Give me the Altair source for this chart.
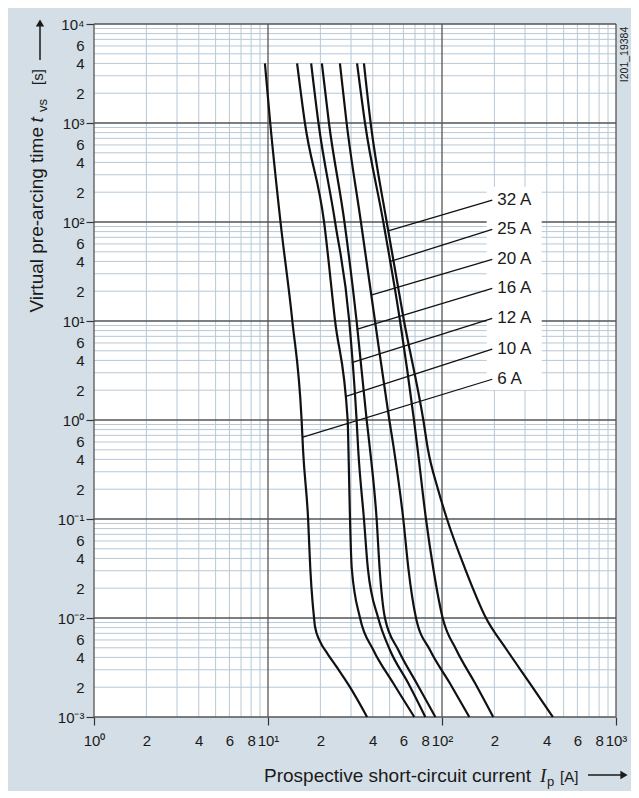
import altair as alt
import pandas as pd

# ---------------- data ----------------
ratings = ["6 A", "10 A", "12 A", "16 A", "20 A", "25 A", "32 A"]

t_std = [4000, 1000, 100, 10, 1, 0.5, 0.1, 0.0316, 0.01, 0.00475, 0.00219, 0.001]

I_6A = [9.6, 10.3, 11.8, 13.8, 15.6, 15.9, 17.0, 17.5, 18.05, 18.4, 18.6, 19.9, 21.9, 24.8, 29.6, 37.1]
t_6A = [4000, 1000, 100, 10, 1, 0.5, 0.1, 0.0316, 0.0142, 0.01, 0.0083, 0.0058, 0.0044, 0.0032, 0.002, 0.001]

I_10A = [14.7, 16.3, 21.0, 24.3, 28.7, 29.0, 29.6, 30.3, 33.8, 40.3, 52.5, 69.3]
t_10A = t_std

I_12A = [17.7, 19.5, 24.3, 29.3, 32.3, 33.0, 35.6, 37.5, 43.0, 50.2, 64.0, 80.2]
t_12A = t_std

I_16A = [20.4, 22.4, 27.5, 32.3, 36.9, 38.6, 42.1, 43.8, 47.0, 56.1, 71.5, 91.6]
t_16A = t_std

I_20A = [25.9, 28.3, 34.2, 41.2, 49.8, 53.0, 59.9, 64.1, 70.9, 85.3, 111, 143.6]
t_20A = t_std

I_25A = [32.5, 36.1, 46.0, 57.4, 69.0, 72.5, 80.9, 89.1, 100.9, 121, 155, 197]
t_25A = t_std

I_32A = [35.6, 38.9, 48.1, 60.5, 78.1, 83.1, 94.8, 106.8, 135.6, 179, 236, 320, 434]
t_32A = [4000, 1000, 100, 10, 1, 0.5, 0.2, 0.1, 0.0316, 0.01, 0.00475, 0.00219, 0.001]

# label leader lines: anchor on curve -> label position
anchor_I = [15.7, 27.8, 30.3, 32.3, 39.1, 50.0, 49.6]
anchor_t = [0.668, 1.72, 3.79, 8.24, 18.3, 39.7, 81.6]
label_t = [2.58, 5.21, 10.6, 21.4, 42.0, 84.3, 166.7]
label_I = 194.5

# white box behind the labels
box_I = [180.6, 374]
box_t = [2.01, 227.5]

# grid lines
major_x = [1, 10, 100, 1000]
minor_x = [m * 10 ** k for k in range(0, 3) for m in range(2, 10)]
major_y = [0.001, 0.01, 0.1, 1, 10, 100, 1000, 10000]
minor_y = [m * 10.0 ** k for k in range(-3, 4) for m in range(2, 10)]

# tick labels
x_tick_vals = [1, 2, 4, 6, 8, 10, 20, 40, 60, 80, 100, 200, 400, 600, 800, 1000]
x_tick_txt = ["10⁰", "2", "4", "6", "8", "10¹", "2", "4", "6", "8",
              "10²", "2", "4", "6", "8", "10³"]
y_tick_vals = [0.001, 0.002, 0.004, 0.006, 0.01, 0.02, 0.04, 0.06, 0.1, 0.2, 0.4, 0.6,
               1, 2, 4, 6, 10, 20, 40, 60, 100, 200, 400, 600, 1000, 2000, 4000, 6000, 10000]
y_tick_txt = ["10⁻³", "2", "4", "6", "10⁻²", "2", "4", "6", "10⁻¹", "2", "4", "6",
              "10⁰", "2", "4", "6", "10¹", "2", "4", "6", "10²", "2", "4", "6",
              "10³", "2", "4", "6", "10⁴"]

# ---------------- tables ----------------
curve_src = {"6 A": (I_6A, t_6A), "10 A": (I_10A, t_10A), "12 A": (I_12A, t_12A),
             "16 A": (I_16A, t_16A), "20 A": (I_20A, t_20A), "25 A": (I_25A, t_25A),
             "32 A": (I_32A, t_32A)}
rows = []
for r, (Is, ts) in curve_src.items():
    for k, (i, t) in enumerate(zip(Is, ts)):
        rows.append({"rating": r, "I": i, "t": t, "k": k})
curve_df = pd.DataFrame(rows)

lab_df = pd.DataFrame({"rating": ratings, "Ia": anchor_I, "ta": anchor_t,
                       "Il": [label_I] * len(ratings), "tl": label_t})
box_df = pd.DataFrame({"x1": [box_I[0]], "x2": [box_I[1]], "y1": [box_t[0]], "y2": [box_t[1]]})


def label_expr(vals, txts):
    expr = "''"
    for v, s in reversed(list(zip(vals, txts))):
        expr = f"abs(datum.value/{v}-1)<1e-6 ? '{s}' : ({expr})"
    return expr


decade_test = "abs(log(datum.value)/LN10 - round(log(datum.value)/LN10)) < 1e-6"

FONT = "Liberation Sans"
INK = "#1a1a1a"
MINOR = "#b7c8d5"
MAJOR = "#555555"
BG = "#d4dee6"

xs = alt.Scale(type="log", domain=[1, 1000])
ys = alt.Scale(type="log", domain=[0.001, 10000])

x_axis = alt.Axis(values=x_tick_vals, labelExpr=label_expr(x_tick_vals, x_tick_txt),
                  grid=False, domain=False, tickSize=8, tickWidth=1.2,
                  tickColor={"condition": {"test": decade_test, "value": "#333333"}, "value": "transparent"},
                  labelFont=FONT, labelFontSize=15, labelColor=INK, labelPadding=8,
                  labelFlush=False, labelOverlap=False, title=None)
y_axis = alt.Axis(values=y_tick_vals, labelExpr=label_expr(y_tick_vals, y_tick_txt),
                  grid=False, domain=False, tickSize=8, tickWidth=1.2,
                  tickColor={"condition": {"test": decade_test, "value": "#333333"}, "value": "transparent"},
                  labelFont=FONT, labelFontSize=15, labelColor=INK, labelPadding=2,
                  labelFlush=False, labelOverlap=False, title=None)


def X(f):
    return alt.X(f, scale=xs, axis=x_axis, title=None)


def Y(f):
    return alt.Y(f, scale=ys, axis=y_axis, title=None)


minor_v = alt.Chart(pd.DataFrame({"v": minor_x})).mark_rule(color=MINOR, strokeWidth=1).encode(x=X("v:Q"))
minor_h = alt.Chart(pd.DataFrame({"v": minor_y})).mark_rule(color=MINOR, strokeWidth=1).encode(y=Y("v:Q"))
major_v = alt.Chart(pd.DataFrame({"v": major_x})).mark_rule(color=MAJOR, strokeWidth=1.3).encode(x=X("v:Q"))
major_h = alt.Chart(pd.DataFrame({"v": major_y})).mark_rule(color=MAJOR, strokeWidth=1.3).encode(y=Y("v:Q"))

box = alt.Chart(box_df).mark_rect(color="white").encode(
    x=X("x1:Q"), x2="x2:Q", y=Y("y1:Q"), y2="y2:Q")

curves = alt.Chart(curve_df).mark_line(color="#111111", strokeWidth=2.2, interpolate="monotone").encode(
    x=X("I:Q"), y=Y("t:Q"), detail="rating:N", order="k:Q")

leaders = alt.Chart(lab_df).mark_rule(color="#111111", strokeWidth=1.3).encode(
    x=X("Ia:Q"), y=Y("ta:Q"), x2="Il:Q", y2="tl:Q")

labels = alt.Chart(lab_df).mark_text(align="left", baseline="middle", dx=5, font=FONT,
                                     fontSize=17, color=INK).encode(
    x=X("Il:Q"), y=Y("tl:Q"), text="rating:N")

one = pd.DataFrame({"a": [0]})


def txt(s, x, y, **kw):
    props = dict(font=FONT, fontSize=19, color=INK, baseline="alphabetic", align="left")
    props.update(kw)
    return alt.Chart(one).mark_text(text=s, **props).encode(x=alt.value(x), y=alt.value(y))


# y title (rotated, reads bottom to top)
yt1 = txt("Virtual pre-arcing time", -51, 103, angle=270, align="right")
yt2 = txt("t", -51, 98.5, angle=270, fontStyle="italic")
yt3 = txt("vs", -47, 88, angle=270, fontSize=13)
yt4 = txt("[s]", -51, 61, angle=270, fontSize=15)
y_arrow = alt.Chart(one).mark_rule(color=INK, strokeWidth=1.5).encode(
    x=alt.value(-54), y=alt.value(36), y2=alt.value(2))
y_head = alt.Chart(one).mark_point(shape="triangle-up", filled=True, color=INK, size=70, opacity=1).encode(
    x=alt.value(-54), y=alt.value(-1))

# x title
xt1 = txt("Prospective short-circuit current", 170, 758)
xt2 = txt("I", 446, 758, font="Liberation Serif", fontStyle="italic")
xt3 = txt("p", 453, 762, fontSize=13)
xt4 = txt("[A]", 466, 758, fontSize=15)
x_arrow = alt.Chart(one).mark_rule(color=INK, strokeWidth=1.5).encode(
    x=alt.value(494), x2=alt.value(527), y=alt.value(751))
x_head = alt.Chart(one).mark_point(shape="triangle-right", filled=True, color=INK, size=70, opacity=1).encode(
    x=alt.value(530), y=alt.value(751))

ident = txt("I201_19384", 534, 2.7, angle=270, align="right", fontSize=10.5)

chart = alt.layer(
    minor_v, minor_h, major_v, major_h, box, curves, leaders, labels,
    yt1, yt2, yt3, yt4, y_arrow, y_head, xt1, xt2, xt3, xt4, x_arrow, x_head, ident
).properties(
    width=522, height=693,
    padding={"left": 86, "top": 16, "right": 15, "bottom": 74},
    autosize=alt.AutoSizeParams(type="none"),
    background=BG,
).configure_view(fill="white", stroke=None)

chart.save("out.html", embed_options={"renderer": "svg", "actions": False})
